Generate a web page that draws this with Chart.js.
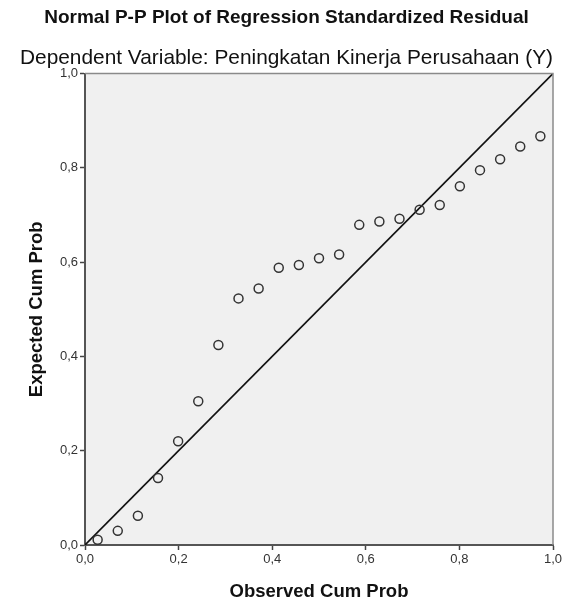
<!DOCTYPE html>
<html>
<head>
<meta charset="utf-8">
<title>Normal P-P Plot</title>
<script src="https://cdn.jsdelivr.net/npm/chart.js@4"></script>
<style>
  html, body { margin: 0; padding: 0; background: #fff; }
  canvas { display: block; }
</style>
</head>
<body>
<canvas id="ppPlot" width="568" height="603"></canvas>
<script>
// data
const observedCumProb = [0.027, 0.070, 0.113, 0.156, 0.199, 0.242, 0.285, 0.328, 0.371, 0.414, 0.457, 0.500,
  0.543, 0.586, 0.629, 0.672, 0.715, 0.758, 0.801, 0.844, 0.887, 0.930, 0.973];
const expectedCumProb = [0.011, 0.030, 0.062, 0.142, 0.220, 0.305, 0.424, 0.523, 0.544, 0.588, 0.594, 0.608,
  0.616, 0.679, 0.686, 0.692, 0.711, 0.721, 0.761, 0.795, 0.818, 0.845, 0.867];
const diagonal = [0, 1];
const tickValues = [0, 0.2, 0.4, 0.6, 0.8, 1.0];
const tickLabels = ["0,0", "0,2", "0,4", "0,6", "0,8", "1,0"];

const FONT = "'Liberation Sans', Arial, sans-serif";

// plot background + top/right frame
const plotFrame = {
  id: "plotFrame",
  beforeDraw(chart) {
    const a = chart.chartArea, c = chart.ctx;
    c.save();
    c.fillStyle = "#f0f0f0";
    c.fillRect(a.left, a.top, a.right - a.left, a.bottom - a.top);
    c.restore();
  },
  afterDatasetsDraw(chart) {
    const a = chart.chartArea, c = chart.ctx;
    c.save();
    c.strokeStyle = "#8a8a8a";
    c.lineWidth = 1.5;
    c.beginPath();
    c.moveTo(a.left, a.top);
    c.lineTo(a.right, a.top);
    c.lineTo(a.right, a.bottom);
    c.stroke();
    c.restore();
  }
};

function fixedTicks(scale) {
  scale.ticks = tickValues.map(v => ({ value: v }));
}

function axis(title, isY) {
  return {
    type: "linear",
    min: 0,
    max: 1,
    afterBuildTicks: fixedTicks,
    afterFit(scale) {
      if (isY) scale.width = 65;
      else scale.height = 58;
    },
    grid: { drawOnChartArea: false, drawTicks: true, tickLength: 5, tickWidth: 1.5, tickColor: "#444" },
    border: { display: true, color: "#555", width: 2 },
    ticks: {
      color: "#333",
      font: { family: FONT, size: 13 },
      padding: 2,
      callback: (v, i) => tickLabels[i]
    },
    title: {
      display: true,
      text: title,
      color: "#111",
      font: { family: FONT, size: 18.5, weight: "bold", lineHeight: 1.2 },
      padding: isY ? { top: 6, bottom: 0 } : { top: 0, bottom: 0 }
    }
  };
}

new Chart(document.getElementById("ppPlot"), {
  type: "scatter",
  data: {
    datasets: [
      {
        label: "Residual",
        data: observedCumProb.map((x, i) => ({ x: x, y: expectedCumProb[i] })),
        pointRadius: 4.5,
        pointBorderWidth: 1.5,
        borderColor: "#333",
        backgroundColor: "rgba(0,0,0,0)"
      },
      {
        type: "line",
        label: "Diagonal",
        data: diagonal.map(v => ({ x: v, y: v })),
        borderColor: "#111",
        borderWidth: 1.6,
        pointRadius: 0,
        fill: false
      }
    ]
  },
  options: {
    responsive: false,
    animation: false,
    layout: { padding: { left: 20, right: 15, top: 0, bottom: 0 } },
    scales: {
      x: axis("Observed Cum Prob", false),
      y: axis("Expected Cum Prob", true)
    },
    plugins: {
      legend: { display: false },
      tooltip: { enabled: false },
      title: {
        display: true,
        text: "Normal P-P Plot of Regression Standardized Residual",
        color: "#111",
        font: { family: FONT, size: 19, weight: "bold", lineHeight: 1.2 },
        padding: { top: 6, bottom: 8 }
      },
      subtitle: {
        display: true,
        text: "Dependent Variable: Peningkatan Kinerja Perusahaan (Y)",
        color: "#111",
        font: { family: FONT, size: 21, weight: "normal", lineHeight: 1.2 },
        padding: { top: 8.5, bottom: 3 }
      }
    }
  },
  plugins: [plotFrame]
});
</script>
</body>
</html>
